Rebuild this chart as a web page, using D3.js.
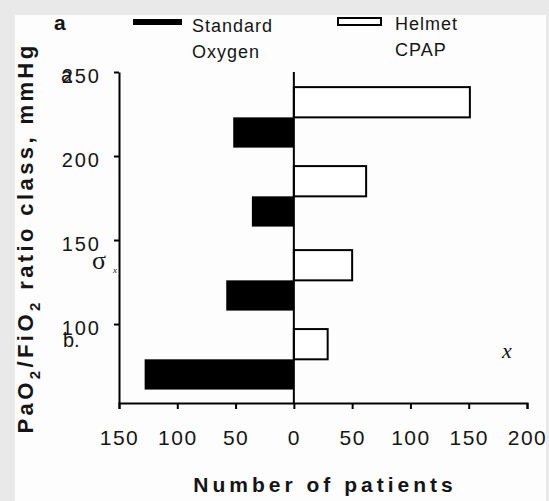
<!DOCTYPE html>
<html>
<head>
<meta charset="utf-8">
<script src="https://cdn.jsdelivr.net/npm/d3@7"></script>
<style>
  body { margin: 0; background: #e9e9e9; }
  text { font-family: Arial, "Liberation Sans", sans-serif; fill: #151515; }
</style>
</head>
<body>
<div id="chart"></div>
<script>
// PaO2/FiO2 class centres (mmHg) and patient counts
var classes = [223, 176, 126, 79]
var oxygen = [52, 36, 58, 128]
var helmet = [151, 62, 50, 29]
var xTicks = [-150, -100, -50, 0, 50, 100, 150, 200]
var yTicks = [100, 150, 200, 250]

var W = 549, H = 501
var cfg = { left: 119, right: 527, top: 72, bottom: 403 }
var barHalf = 18 // bar thickness in mmHg units

var svg = d3.select('#chart').append('svg')
  .attr('width', W)
  .attr('height', H)

svg.append('rect')
  .attr('x', 15).attr('y', 15)
  .attr('width', 531).attr('height', H - 15)
  .attr('fill', '#fdfdfd')

var x = d3.scaleLinear().domain([-150, 200]).range([cfg.left, cfg.right])
var y = d3.scaleLinear().domain([53, 250]).range([cfg.bottom, cfg.top])

// bars
svg.selectAll('rect.oxy')
  .data(classes)
  .enter().append('rect')
  .attr('class', 'oxy')
  .attr('x', function(d, i) { return x(-oxygen[i]) })
  .attr('y', function(d) { return y(d) })
  .attr('width', function(d, i) { return x(0) - x(-oxygen[i]) })
  .attr('height', function(d) { return y(d - barHalf) - y(d) })
  .attr('fill', '#000')

svg.selectAll('rect.hel')
  .data(classes)
  .enter().append('rect')
  .attr('class', 'hel')
  .attr('x', x(0))
  .attr('y', function(d) { return y(d + barHalf) })
  .attr('width', function(d, i) { return x(helmet[i]) - x(0) })
  .attr('height', function(d) { return y(d) - y(d + barHalf) })
  .attr('fill', '#fff')
  .attr('stroke', '#000')
  .attr('stroke-width', 2)

// axes
var xAxis = d3.axisBottom(x).tickValues(xTicks).tickSize(6).tickSizeOuter(6)
  .tickFormat(function(d) { return Math.abs(d) })
var gx = svg.append('g')
  .attr('transform', 'translate(0,' + cfg.bottom + ')')
  .call(xAxis)
gx.selectAll('path, line').attr('stroke', '#000').attr('stroke-width', 2)
gx.selectAll('text')
  .attr('y', 27)
  .attr('dy', '0.71em')
  .style('font-size', '21px')
  .style('letter-spacing', '1.5px')
  .attr('fill', '#151515')

var yAxis = d3.axisLeft(y).tickValues(yTicks).tickSize(5).tickSizeOuter(0)
var gy = svg.append('g')
  .attr('transform', 'translate(' + cfg.left + ',0)')
  .call(yAxis)
gy.selectAll('path, line').attr('stroke', '#000').attr('stroke-width', 2)
gy.selectAll('text')
  .attr('x', -18)
  .attr('dy', '0.5em')
  .style('font-size', '20px')
  .style('letter-spacing', '2px')
  .attr('fill', '#151515')

// zero line
svg.append('line')
  .attr('x1', x(0)).attr('x2', x(0))
  .attr('y1', y(250)).attr('y2', cfg.bottom)
  .attr('stroke', '#000').attr('stroke-width', 2)

// axis titles
svg.append('text')
  .attr('x', 325).attr('y', 492)
  .attr('text-anchor', 'middle')
  .style('font-size', '21px').style('font-weight', 'bold')
  .style('letter-spacing', '4px')
  .text('Number of patients')

var yt = svg.append('text')
  .attr('transform', 'translate(33,238) rotate(-90)')
  .attr('text-anchor', 'middle')
  .style('font-size', '22px').style('font-weight', 'bold')
  .style('letter-spacing', '3.4px')
yt.append('tspan').text('PaO')
yt.append('tspan').attr('dy', 7).style('font-size', '15px').text('2')
yt.append('tspan').attr('dy', -7).text('/FiO')
yt.append('tspan').attr('dy', 7).style('font-size', '15px').text('2')
yt.append('tspan').attr('dy', -7).text(' ratio class, mmHg')

// legend
svg.append('rect').attr('x', 133).attr('y', 19).attr('width', 49).attr('height', 6).attr('fill', '#000')
svg.append('rect').attr('x', 338).attr('y', 18).attr('width', 43).attr('height', 7)
  .attr('fill', '#fff').attr('stroke', '#000').attr('stroke-width', 2)
var legendText = [['Standard', 192, 32], ['Oxygen', 192, 58], ['Helmet', 395, 30], ['CPAP', 395, 56]]
svg.selectAll('text.leg')
  .data(legendText)
  .enter().append('text')
  .attr('class', 'leg')
  .attr('x', function(d) { return d[1] })
  .attr('y', function(d) { return d[2] })
  .style('font-size', '18px')
  .style('letter-spacing', '1px')
  .text(function(d) { return d[0] })

// panel letter and stray glyphs from the source page
svg.append('text').attr('x', 54).attr('y', 30)
  .style('font-size', '21px').style('font-weight', 'bold').text('a')
svg.append('text').attr('x', 61).attr('y', 82)
  .style('font-size', '20px').text('a')
svg.append('text').attr('x', 92).attr('y', 269)
  .style('font-family', '"Liberation Serif", serif').style('font-size', '26px').text('σ')
svg.append('text').attr('x', 113).attr('y', 273)
  .style('font-family', '"Liberation Serif", serif').style('font-size', '9px').style('font-style', 'italic').text('x')
svg.append('text').attr('x', 63).attr('y', 347)
  .style('font-size', '20px').text('b.')
svg.append('text').attr('x', 502).attr('y', 358)
  .style('font-family', '"Liberation Serif", serif').style('font-size', '22px').style('font-style', 'italic').text('x')
</script>
</body>
</html>
